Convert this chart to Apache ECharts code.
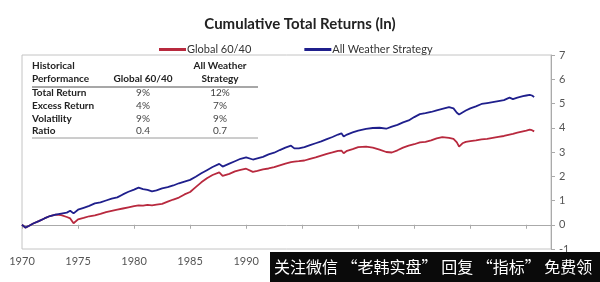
<!DOCTYPE html>
<html><head><meta charset="utf-8">
<script src="https://cdn.jsdelivr.net/npm/echarts@6/dist/echarts.min.js"></script>
<style>html,body{margin:0;padding:0;background:#fff}#c{width:600px;height:282px}</style>
</head><body><div id="c"></div>
<script>
const titleText = 'Cumulative Total Returns (ln)';
const seriesNames = ['Global 60/40', 'All Weather Strategy'];
const years = [1970.0,1970.3,1970.6,1971.0,1971.5,1972.0,1972.5,1973.0,1973.5,1974.0,1974.3,1974.6,1975.0,1975.5,1976.0,1976.5,1977.0,1977.5,1978.0,1978.5,1979.0,1979.5,1980.0,1980.4,1980.8,1981.2,1981.6,1982.0,1982.5,1983.0,1983.5,1984.0,1984.5,1985.0,1985.5,1986.0,1986.5,1987.0,1987.6,1987.9,1988.5,1989.0,1989.5,1990.0,1990.6,1991.0,1991.5,1992.0,1992.5,1993.0,1993.5,1994.0,1994.3,1994.7,1995.2,1995.7,1996.2,1996.7,1997.2,1997.7,1998.2,1998.5,1998.7,1999.0,1999.5,2000.0,2000.7,2001.3,2001.9,2002.5,2003.0,2003.5,2004.0,2004.5,2005.0,2005.5,2006.0,2006.5,2007.0,2007.5,2008.1,2008.5,2008.8,2009.0,2009.3,2009.6,2010.0,2010.5,2011.0,2011.5,2012.0,2012.5,2013.0,2013.5,2013.8,2014.2,2014.7,2015.0,2015.3,2015.5,2015.7];
const allWeather = [0.00,-0.12,-0.05,0.05,0.15,0.26,0.36,0.42,0.46,0.50,0.58,0.47,0.62,0.70,0.78,0.88,0.92,1.00,1.08,1.13,1.25,1.36,1.45,1.53,1.47,1.44,1.38,1.42,1.50,1.55,1.62,1.71,1.78,1.85,1.98,2.12,2.25,2.38,2.51,2.40,2.52,2.62,2.72,2.78,2.69,2.74,2.80,2.90,2.97,3.08,3.18,3.26,3.15,3.15,3.20,3.28,3.36,3.44,3.53,3.62,3.72,3.77,3.64,3.72,3.81,3.88,3.95,3.99,4.00,3.96,4.05,4.12,4.22,4.30,4.44,4.56,4.60,4.65,4.72,4.78,4.85,4.80,4.62,4.55,4.63,4.71,4.80,4.88,4.98,5.02,5.06,5.10,5.14,5.24,5.18,5.24,5.30,5.33,5.36,5.33,5.27];
const global6040 = [0.00,-0.12,-0.05,0.05,0.15,0.26,0.36,0.42,0.40,0.32,0.26,0.06,0.22,0.28,0.35,0.39,0.45,0.52,0.57,0.62,0.67,0.72,0.77,0.80,0.79,0.82,0.80,0.83,0.86,0.95,1.04,1.12,1.25,1.35,1.55,1.75,1.92,2.05,2.16,2.02,2.10,2.20,2.26,2.31,2.18,2.22,2.28,2.32,2.38,2.45,2.52,2.58,2.60,2.62,2.65,2.72,2.78,2.85,2.92,2.98,3.05,3.06,2.95,3.05,3.12,3.20,3.22,3.18,3.10,3.00,2.98,3.07,3.18,3.26,3.32,3.40,3.42,3.48,3.56,3.61,3.58,3.54,3.40,3.22,3.36,3.42,3.45,3.48,3.52,3.54,3.58,3.62,3.66,3.72,3.75,3.80,3.85,3.88,3.92,3.90,3.85];
const tableHeader = [['Historical','Performance'], ['','Global 60/40'], ['All Weather','Strategy']];
const tableRows = ['Total Return','Excess Return','Volatility','Ratio'];
const tableGlobal = ['9%','4%','9%','0.4'];
const tableAW = ['12%','7%','9%','0.7'];
const watermark = '关注微信 “老韩实盘” 回复 “指标” 免费领';

const chart = echarts.init(document.getElementById('c'), null, {renderer:'canvas'});
const F = 'Lato, "Open Sans", sans-serif';
const g = [];
const rowY = [93, 106, 119, 131];
tableHeader.forEach((h, i) => {
  const x = [32, 143, 220][i];
  const align = i === 0 ? 'left' : 'center';
  [66, 79].forEach((y, j) => {
    if (h[j]) g.push({type:'text', x:x, y:y, style:{text:h[j], font:'bold 10px ' + F, fill:'#222', textAlign:align, textVerticalAlign:'middle'}});
  });
});
g.push({type:'line', shape:{x1:32, y1:87, x2:258, y2:87}, style:{stroke:'#8a8a8a', lineWidth:1.5}});
g.push({type:'line', shape:{x1:32, y1:138, x2:258, y2:138}, style:{stroke:'#9a9a9a', lineWidth:1}});
tableRows.forEach((r, i) => {
  g.push({type:'text', x:32, y:rowY[i], style:{text:r, font:'bold 10px ' + F, fill:'#222', textAlign:'left', textVerticalAlign:'middle'}});
  g.push({type:'text', x:143, y:rowY[i], style:{text:tableGlobal[i], font:'10px ' + F, fill:'#444', textAlign:'center', textVerticalAlign:'middle'}});
  g.push({type:'text', x:220, y:rowY[i], style:{text:tableAW[i], font:'10px ' + F, fill:'#444', textAlign:'center', textVerticalAlign:'middle'}});
});
g.push({type:'rect', shape:{x:270, y:252, width:330, height:30}, style:{fill:'#0a0a0a'}, z:100});
g.push({type:'text', x:274, y:267, z:101, style:{text:watermark, font:'16px "Noto Sans CJK SC", sans-serif', fill:'#fff', textAlign:'left', textVerticalAlign:'middle'}});

const mk = arr => years.map((y, i) => [y, arr[i]]);
chart.setOption({
  animation:false,
  title:{text:titleText, left:'center', top:12, textStyle:{fontFamily:F, fontWeight:'bold', fontSize:15, color:'#222'}},
  legend:{left:154, top:39, itemWidth:27, itemHeight:3, itemGap:53, icon:'rect',
    textStyle:{fontFamily:F, fontSize:11, color:'#333', padding:[0,0,0,-4]},
    data:seriesNames},
  grid:{left:22, right:49, top:55, bottom:33, show:true, borderColor:'#c4c4c4', borderWidth:1},
  xAxis:[
    {type:'value', min:1970, max:2017.2, interval:5, position:'bottom',
      axisLine:{show:false, onZero:false}, axisTick:{show:false}, splitLine:{show:false},
      axisLabel:{color:'#555', fontSize:11, fontFamily:F, margin:7, showMaxLabel:false, formatter: v => String(v)}},
    {type:'value', min:1970, max:2017.2, interval:5, position:'bottom',
      axisLine:{show:true, onZero:true, lineStyle:{color:'#aaa', width:1}},
      axisTick:{show:true, length:4, lineStyle:{color:'#aaa'}}, splitLine:{show:false},
      axisLabel:{show:false}}
  ],
  yAxis:{type:'value', position:'right', min:-1, max:7, interval:1,
    axisLine:{show:true, lineStyle:{color:'#aaa'}}, axisTick:{show:true, length:4, lineStyle:{color:'#aaa'}},
    splitLine:{show:false}, axisLabel:{color:'#555', fontSize:11, fontFamily:F, margin:8}},
  series:[
    {name:seriesNames[0], type:'line', xAxisIndex:0, data:mk(global6040), showSymbol:false, color:'#b8293e', lineStyle:{width:1.8, color:'#b8293e'}},
    {name:seriesNames[1], type:'line', xAxisIndex:0, data:mk(allWeather), showSymbol:false, color:'#1f1f8c', lineStyle:{width:1.8, color:'#1f1f8c'}}
  ],
  graphic:g
});
</script></body></html>
